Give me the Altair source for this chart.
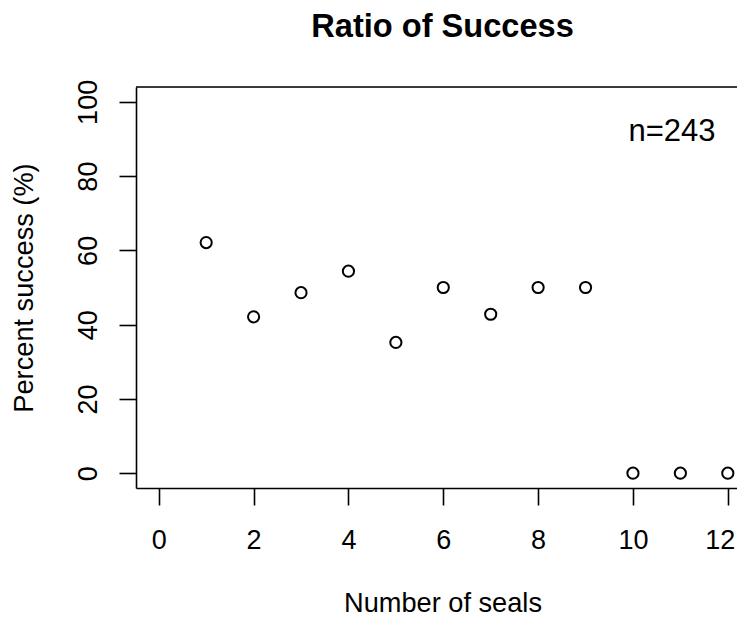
import altair as alt
import pandas as pd

seals = [1, 2, 3, 4, 5, 6, 7, 8, 9, 10, 11, 12]
success = [62.1, 42.1, 48.6, 54.4, 35.2, 50.0, 42.8, 50.0, 50.0, 0.0, 0.0, 0.0]
x_ticks = [0, 2, 4, 6, 8, 10, 12]
y_ticks = [0, 20, 40, 60, 80, 100]
title_text = ["Ratio of Success"]
note_text = ["n=243"]

FONT = "Liberation Sans"
W, H = 601, 401
PX_PER_X = 47.42

df = pd.DataFrame({"seals": seals, "success": success})

xs = alt.Scale(domain=[-0.48, -0.48 + W / PX_PER_X], nice=False, zero=False)
ys = alt.Scale(domain=[-4, 104], nice=False, zero=False)

points = alt.Chart(df).mark_point(
    shape="circle", filled=False, stroke="black", strokeWidth=2, size=125, opacity=1
).encode(
    x=alt.X("seals:Q", scale=xs, axis=alt.Axis(
        values=x_ticks, title="Number of seals", grid=False,
        tickSize=17, tickWidth=1.6, tickColor="black",
        domainColor="black", domainWidth=1.6,
        labelFont=FONT, labelFontSize=27, labelColor="black",
        labelBaseline="alphabetic", labelPadding=43, labelFlush=False,
        labelOffset={"condition": {"test": "datum.value === 12", "value": -8}, "value": 0},
        titleFont=FONT, titleFontSize=27.2, titleFontWeight="normal", titleColor="black",
        titleBaseline="alphabetic", titleX=306.5, titleY=123, titleAnchor="middle", titleAlign="center",
    )),
    y=alt.Y("success:Q", scale=ys, axis=alt.Axis(
        values=y_ticks, title="Percent success (%)", grid=False,
        tickSize=17, tickWidth=1.6, tickColor="black",
        domainColor="black", domainWidth=1.6,
        labelFont=FONT, labelFontSize=27, labelColor="black",
        labelAngle=270, labelAlign="center", labelBaseline="alphabetic", labelPadding=23,
        labelFlush=False,
        titleFont=FONT, titleFontSize=27.2, titleFontWeight="normal", titleColor="black",
        titleAngle=270, titleBaseline="alphabetic", titleAlign="center",
        titleX=-103.7, titleY=200.5,
    )),
)

top_border = alt.Chart(pd.DataFrame({"k": [0]})).mark_rule(
    color="black", strokeWidth=1.6
).encode(y=alt.value(0))

title = alt.Chart(pd.DataFrame({"t": title_text})).mark_text(
    font=FONT, fontSize=32.6, fontWeight="bold", color="black",
    align="center", baseline="alphabetic"
).encode(text="t:N", x=alt.value(306.5), y=alt.value(-49.6))

note = alt.Chart(pd.DataFrame({"t": note_text})).mark_text(
    font=FONT, fontSize=31, color="black",
    align="left", baseline="alphabetic"
).encode(text="t:N", x=alt.value(492.5), y=alt.value(53.7))

chart = alt.layer(points, top_border, title, note).properties(
    width=W, height=H,
    autosize=alt.AutoSizeParams(type="none"),
    padding={"left": 128, "top": 79, "right": 0, "bottom": 136},
).configure_view(stroke=None).configure(background="white")

chart.save("out.html", embed_options={"renderer": "svg", "actions": False})
